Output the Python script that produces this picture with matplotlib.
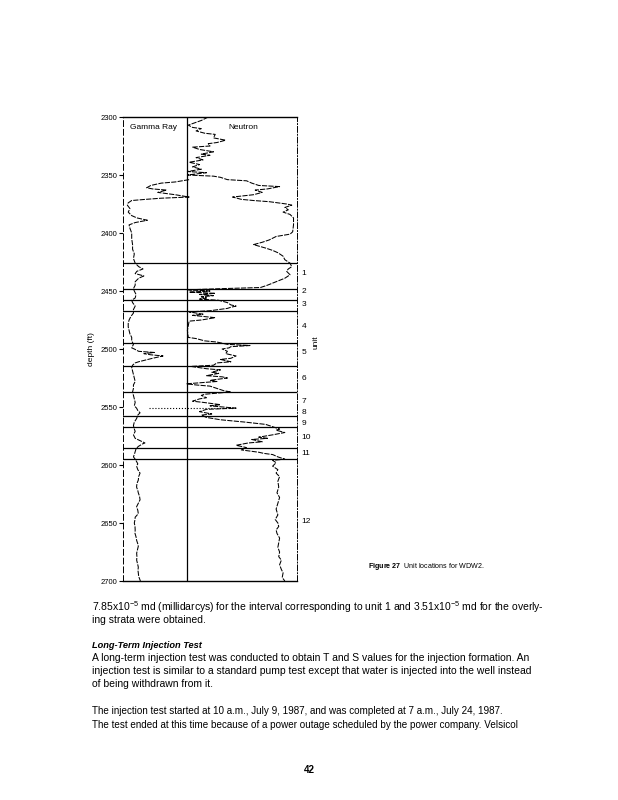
import numpy as np
import matplotlib
matplotlib.use('Agg')
import matplotlib.pyplot as plt

plt.rcParams['font.family'] = ['Liberation Sans', 'DejaVu Sans']
plt.rcParams['mathtext.fontset'] = 'custom'
plt.rcParams['mathtext.rm'] = 'Liberation Sans'
plt.rcParams['mathtext.it'] = 'Liberation Sans:italic'
plt.rcParams['mathtext.bf'] = 'Liberation Sans:bold'

# neutron log (relative deflection 0-100 across the track, depth in ft)
neutron_depth = [2300, 2303, 2307, 2309, 2310, 2312, 2314, 2315, 2318, 2320, 2322, 2323, 2325, 2326, 2328,
                 2330, 2332, 2333, 2335, 2337, 2339, 2341, 2343, 2345, 2347, 2348, 2350, 2351, 2352, 2354,
                 2355, 2357, 2359, 2360, 2362, 2363, 2365, 2367, 2369, 2371, 2372, 2373, 2375, 2376, 2378,
                 2380, 2382, 2384, 2387, 2393, 2399, 2401, 2403, 2406, 2408, 2410, 2413, 2415, 2417, 2420,
                 2423, 2426, 2429, 2431, 2433, 2436, 2439, 2442, 2445, 2447, 2448, 2449, 2450, 2451, 2452,
                 2453, 2454, 2455, 2456, 2457, 2458, 2460, 2462, 2463, 2464, 2465, 2467, 2468, 2470, 2471,
                 2473, 2475, 2476, 2480, 2484, 2490, 2491, 2493, 2494, 2496, 2497, 2498, 2499, 2500, 2502,
                 2504, 2506, 2508, 2509, 2511, 2512, 2514, 2515, 2517, 2518, 2520, 2521, 2523, 2524, 2525,
                 2527, 2528, 2530, 2531, 2532, 2534, 2536, 2537, 2539, 2540, 2542, 2543, 2545, 2546, 2548,
                 2549, 2551, 2552, 2554, 2556, 2557, 2559, 2561, 2563, 2565, 2567, 2569, 2570, 2572, 2574,
                 2576, 2577, 2578, 2580, 2581, 2583, 2585, 2587, 2589, 2590, 2591, 2593, 2595, 2596, 2598,
                 2601, 2604, 2607, 2610, 2614, 2619, 2624, 2628, 2633, 2638, 2643, 2647, 2650, 2653, 2656,
                 2659, 2663, 2667, 2671, 2675, 2679, 2682, 2686, 2690, 2693, 2697, 2700]
neutron_value = [49, 45, 37.5, 40, 45, 42, 47, 53, 52, 59, 54, 49, 50, 40, 44,
                 52, 45, 50, 42, 46, 38, 44, 40, 45, 37, 48, 37, 52, 56, 60,
                 71, 74, 78, 90, 83, 76, 80, 75, 63, 68, 75, 84, 94, 97, 93,
                 95, 92, 96, 98, 98, 97.5, 96, 88, 84, 80, 75, 82, 86, 89, 92,
                 93, 96, 97, 95, 94, 96, 93, 88, 83, 79, 56, 37, 50, 38, 53,
                 44, 52, 45, 48, 44, 55, 60, 62, 65, 62, 60, 50, 38, 46, 40,
                 53, 45, 38, 37.5, 37, 37.5, 42, 47, 54, 60, 73, 62, 61, 57, 60,
                 59, 65, 62, 56, 62, 54, 52, 39, 48, 56, 51, 55, 48, 57, 60,
                 50, 54, 36.5, 42, 50, 54, 58, 62, 47, 45, 48, 44, 40, 46, 56,
                 50, 65, 48, 44, 51, 45, 48, 56, 70, 82, 86, 90, 88, 93, 86,
                 78, 83, 74, 80, 72, 65, 71, 68, 78, 81, 86, 89, 93, 86, 88,
                 86, 89, 88, 90, 89, 89.5, 88.5, 90, 89, 88, 89, 87.5, 89, 89.5, 88,
                 88.5, 90, 89.5, 89, 90, 89.5, 91, 90, 91, 92, 91.5, 93]

# gamma ray log
gamma_depth = [2354, 2356, 2357, 2359, 2361, 2362, 2363, 2365, 2367, 2369, 2370, 2371, 2372, 2374, 2376,
               2379, 2382, 2385, 2387, 2389, 2391, 2393, 2396, 2400, 2405, 2410, 2414, 2418, 2422, 2426,
               2429, 2431, 2433, 2435, 2437, 2439, 2442, 2445, 2448, 2450, 2453, 2456, 2458, 2460, 2463,
               2466, 2469, 2472, 2475, 2478, 2481, 2484, 2487, 2490, 2493, 2496, 2499, 2500, 2502, 2503,
               2504, 2505, 2506, 2508, 2509.5, 2511, 2512, 2514, 2516, 2519, 2522, 2525, 2528, 2531, 2534,
               2537, 2540, 2543, 2546, 2549, 2551, 2553, 2555, 2557, 2560, 2563, 2566, 2569, 2571, 2574,
               2577, 2579, 2581, 2582, 2584, 2586, 2588.5, 2591, 2593, 2595, 2597, 2599, 2601, 2604, 2607,
               2610, 2613, 2616, 2619, 2622, 2624, 2627, 2630, 2633, 2636, 2639, 2642, 2645, 2647, 2650,
               2653, 2656, 2659, 2662, 2665, 2668, 2670, 2673, 2676, 2679, 2682, 2685, 2688, 2691, 2693,
               2696, 2699, 2700]
gamma_value = [38, 30, 22, 16, 13.6, 17, 25, 20, 30, 38, 22, 13, 5, 3, 2.5,
               4, 3, 5, 8, 14, 7, 3.5, 4, 5, 5, 5.5, 5.5, 6.5, 6, 7,
               9, 11.5, 8, 7, 12, 9, 7, 7, 6, 6.5, 7.5, 7, 5, 5.5, 7,
               6, 6, 4.5, 3.5, 3, 3, 3.5, 4, 5, 5, 6, 5, 6.5, 9, 18,
               12, 16, 23, 17, 13, 9, 7, 5.5, 5, 5.5, 6, 6.5, 7, 6, 6,
               5.5, 6, 6.5, 7, 6.5, 7.8, 8.5, 9.8, 8.5, 7.8, 6.5, 6, 6.5, 7, 6,
               7, 9.8, 12.6, 11, 8.8, 7.5, 7, 6.5, 6, 7, 7.8, 8.5, 7.8, 8.5, 9.8,
               9, 8.8, 8, 7.8, 8.5, 8.8, 9.5, 9.8, 8.8, 7.8, 8.5, 8.8, 7, 6.9, 6.5,
               6.9, 7, 6.9, 7.5, 7.85, 8.5, 8.8, 8.3, 7.85, 8, 7.85, 8.3, 8.8, 8.6, 8.8,
               9, 9.8, 10]

# unit boundaries and label positions (ft)
unit_tops = [2426, 2448, 2458, 2467, 2495, 2515, 2537, 2558, 2567.5, 2585, 2595]
unit_names = ['1', '2', '3', '4', '5', '6', '7', '8', '9', '10', '11', '12']
unit_label_depth = [2434.5, 2450.6, 2462, 2481, 2503, 2525, 2545, 2555, 2564, 2576.5, 2590.5, 2649]
depth_ticks = [2300, 2350, 2400, 2450, 2500, 2550, 2600, 2650, 2700]
track_split = 37

# page text around the figure: (text, y pixel, font size)
page_lines = [
    '7.85x10$^{-5}$ md (millidarcys) for the interval corresponding to unit 1 and 3.51x10$^{-5}$ md for the overly-',
    'ing strata were obtained.',
    'A long-term injection test was conducted to obtain T and S values for the injection formation. An',
    'injection test is similar to a standard pump test except that water is injected into the well instead',
    'of being withdrawn from it.',
    'The injection test started at 10 a.m., July 9, 1987, and was completed at 7 a.m., July 24, 1987.',
    'The test ended at this time because of a power outage scheduled by the power company. Velsicol',
]
page_line_y = [607, 620, 658, 671, 684, 711, 725]
page_line_size = [7.5, 7.5, 7.5, 7.5, 7.5, 7.1, 7.1]

fig = plt.figure(figsize=(6.18, 8), dpi=100)
ax = fig.add_axes([123 / 618, 1 - 581 / 800, 174 / 618, 464 / 800])

scan = (0, (5, 1.2))
ax.plot(gamma_value, gamma_depth, color='black', lw=0.75, linestyle=scan)
ax.plot(neutron_value, neutron_depth, color='black', lw=0.75, linestyle=scan)

for d in unit_tops:
    ax.axhline(d, color='black', lw=0.9)
ax.hlines(2551, 15, 64, colors='black', lw=0.8, linestyles=':')
ax.axvline(track_split, color='black', lw=0.9)

ax.set_xlim(0, 100)
ax.set_ylim(2700, 2300)
ax.set_yticks(depth_ticks)
ax.set_yticklabels([str(t) for t in depth_ticks], fontsize=5.5)
ax.set_xticks([])
ax.tick_params(axis='y', direction='out', length=3, width=0.8, pad=1)

for side in ['top', 'bottom']:
    ax.spines[side].set_linewidth(1.0)
ax.spines['left'].set_linewidth(0.7)
ax.spines['left'].set_linestyle((0, (6, 3)))
ax.spines['right'].set_linewidth(0.7)
ax.spines['right'].set_linestyle((0, (6, 2, 1, 2)))

ax.text(0.04, 0.978, 'Gamma Ray', transform=ax.transAxes, fontsize=6, va='center', ha='left')
ax.text(0.605, 0.978, 'Neutron', transform=ax.transAxes, fontsize=6, va='center', ha='left')

# unit labels on the right
for name, d in zip(unit_names, unit_label_depth):
    ax.text(1.025, d, name, transform=ax.get_yaxis_transform(), fontsize=6, va='center', ha='left')
ax.text(1.11, 0.515, 'unit', transform=ax.transAxes, fontsize=6, rotation=90, va='center', ha='center')
ax.text(-0.18, 0.5, 'depth (ft)', transform=ax.transAxes, fontsize=6, rotation=90, va='center', ha='center')

# caption
fig.text(368 / 618, 1 - 566 / 800, r'$\bf{Figure\ 27}$  Unit locations for WDW2.', fontsize=5.1, va='center')

# page text
for txt, y, fs in zip(page_lines, page_line_y, page_line_size):
    fig.text(92 / 618, 1 - y / 800, txt, fontsize=fs, va='center', ha='left')
fig.text(92 / 618, 1 - 645 / 800, 'Long-Term Injection Test', fontsize=6.7, va='center', ha='left',
         fontweight='bold', fontstyle='italic')
fig.text(309 / 618, 1 - 770 / 800, '42', fontsize=7, va='center', ha='center', fontweight='bold')

fig.savefig('out.png', dpi=100)
